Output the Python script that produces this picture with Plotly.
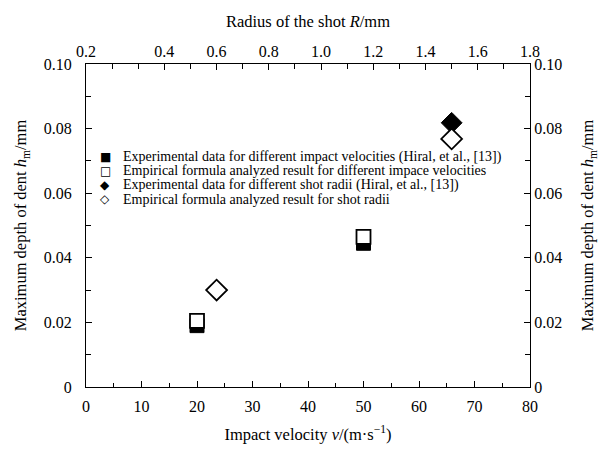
import plotly.graph_objects as go

# ---- data ----
velocity = [20, 50]                       # impact velocity v (m/s)
h_exp_velocity = [0.019, 0.0445]          # experimental, different velocities
h_emp_velocity = [0.0205, 0.0465]         # empirical formula, different velocities
radius = [0.6, 1.5]                       # shot radius R (mm)
h_exp_radius = [0.0300, 0.0818]           # experimental, different radii
h_emp_radius = [0.0300, 0.0768]           # empirical formula, radii

legend_symbols = ["■", "□", "◆", "◇"]
legend_labels = [
    "Experimental data for different impact velocities (Hiral, et al., [13])",
    "Empirical formula analyzed result for different impace velocities",
    "Experimental data for different shot radii (Hiral, et al., [13])",
    "Empirical formula analyzed result for shot radii",
]

x_ticks = [0, 10, 20, 30, 40, 50, 60, 70, 80]
top_tickvals = [0.1, 0.4, 0.6, 0.8, 1.0, 1.2, 1.4, 1.6, 1.8]
top_ticktext = ["0.2", "0.4", "0.6", "0.8", "1.0", "1.2", "1.4", "1.6", "1.8"]
y_tickvals = [0, 0.02, 0.04, 0.06, 0.08, 0.10]
y_ticktext = ["0", "0.02", "0.04", "0.06", "0.08", "0.10"]

FONT = "Liberation Serif"
BLACK = "#000000"

fig = go.Figure()
fig.add_trace(go.Scatter(x=velocity, y=h_exp_velocity, mode="markers", xaxis="x", yaxis="y",
                         marker=dict(symbol="square", size=14, color=BLACK,
                                     line=dict(color=BLACK, width=1)),
                         name=legend_labels[0], showlegend=False))
fig.add_trace(go.Scatter(x=velocity, y=h_emp_velocity, mode="markers", xaxis="x", yaxis="y",
                         marker=dict(symbol="square", size=14, color="white",
                                     line=dict(color=BLACK, width=1.8)),
                         name=legend_labels[1], showlegend=False))
fig.add_trace(go.Scatter(x=radius, y=h_exp_radius, mode="markers", xaxis="x2", yaxis="y",
                         marker=dict(symbol="diamond", size=16, color=BLACK,
                                     line=dict(color=BLACK, width=1)),
                         name=legend_labels[2], showlegend=False))
fig.add_trace(go.Scatter(x=radius, y=h_emp_radius, mode="markers", xaxis="x2", yaxis="y",
                         marker=dict(symbol="diamond", size=16, color="white",
                                     line=dict(color=BLACK, width=1.8)),
                         name=legend_labels[3], showlegend=False))

# dummy trace so the right y axis is drawn
fig.add_trace(go.Scatter(x=[None], y=[None], xaxis="x", yaxis="y2", showlegend=False,
                         hoverinfo="skip"))

axis_common = dict(showline=True, linecolor=BLACK, linewidth=1.2, showgrid=False,
                   zeroline=False, ticks="inside", ticklen=6, tickcolor=BLACK, tickwidth=1.2,
                   tickfont=dict(family=FONT, size=16, color=BLACK))
title_font = dict(family=FONT, size=16.5, color=BLACK)

fig.update_layout(
    width=608, height=460,
    margin=dict(l=86, r=78, t=64, b=73),
    paper_bgcolor="white", plot_bgcolor="white",
    font=dict(family=FONT, color=BLACK),
    xaxis=dict(range=[0, 80], tickvals=x_ticks, ticklabelstandoff=5,
               minor=dict(ticks="inside", dtick=5, tick0=0, ticklen=4, tickcolor=BLACK,
                          showgrid=False),
               title=dict(text="Impact velocity <i>v</i>/(m·s<sup>−1</sup>)",
                          font=title_font, standoff=14),
               **axis_common),
    xaxis2=dict(range=[0.1, 1.8], overlaying="x", side="top", anchor="y",
                tickvals=top_tickvals, ticktext=top_ticktext,
                minor=dict(ticks="inside", dtick=0.1, tick0=0.1, ticklen=5, tickcolor=BLACK,
                           showgrid=False),
                title=dict(text="Radius of the shot <i>R</i>/mm",
                           font=title_font, standoff=10),
                **axis_common),
    yaxis=dict(range=[0, 0.10], tickvals=y_tickvals, ticktext=y_ticktext,
               ticklabelstandoff=10,
               minor=dict(ticks="inside", dtick=0.01, tick0=0, ticklen=5, tickcolor=BLACK,
                          showgrid=False),
               title=dict(text="Maximum depth of dent <i>h</i><sub>m</sub>/mm",
                          font=title_font, standoff=12),
               **axis_common),
    yaxis2=dict(range=[0, 0.10], overlaying="y", side="right", anchor="x",
                tickvals=y_tickvals, ticktext=y_ticktext,
                minor=dict(ticks="inside", dtick=0.01, tick0=0, ticklen=5, tickcolor=BLACK,
                           showgrid=False),
                title=dict(text="Maximum depth of dent <i>h</i><sub>m</sub>/mm",
                           font=title_font, standoff=20),
                **axis_common),
    showlegend=False,
)

# legend drawn as text rows
row_y = [0.712, 0.669, 0.625, 0.582]
for sym, lab, yy in zip(legend_symbols, legend_labels, row_y):
    fig.add_annotation(xref="paper", yref="paper", x=0.043, y=yy, text=sym, showarrow=False,
                       xanchor="center", yanchor="middle",
                       font=dict(family="DejaVu Sans", size=12, color=BLACK))
    fig.add_annotation(xref="paper", yref="paper", x=0.079, y=yy, text=lab, showarrow=False,
                       xanchor="left", yanchor="middle",
                       font=dict(family=FONT, size=14, color=BLACK))

fig.write_html("out.html")
